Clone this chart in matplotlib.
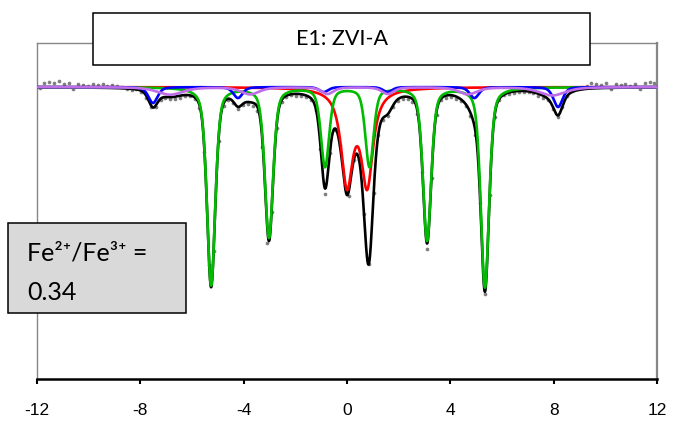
import numpy as np
import matplotlib.pyplot as plt
from matplotlib.patches import Rectangle

plt.rcParams['font.family'] = ['Liberation Sans', 'DejaVu Sans']
plt.rcParams['axes.unicode_minus'] = False

# fitted components (velocity mm/s, depth %, FWHM mm/s)
green_pos = [-5.26, -3.02, -0.85, 0.87, 3.10, 5.34]
green_depth = [9.9, 7.5, 3.95, 3.95, 7.65, 10.0]
green_fwhm = [0.38, 0.38, 0.38, 0.38, 0.38, 0.38]

blue_pos = [-7.51, -4.22, -0.90, 1.57, 4.93, 8.17]
blue_depth = [0.8, 0.55, 0.25, 0.25, 0.55, 1.0]
blue_fwhm = [0.42, 0.42, 0.42, 0.42, 0.42, 0.42]

violet_pos = [-6.85, -3.75, -0.75, 1.58, 4.68, 7.95]
violet_depth = [0.38, 0.36, 0.34, 0.34, 0.36, 0.42]
violet_fwhm = [1.20, 0.85, 0.55, 0.55, 0.85, 1.20]

red_pos = [0.0, 0.78]
red_depth = [4.7, 4.7]
red_fwhm = [0.54, 0.54]

# measured spectrum: deviation of each channel from the fit (%)
residual = [
    -0.05, 0.20, 0.25, 0.20, 0.30, 0.15, 0.20, -0.10,
    0.20, 0.15, 0.10, 0.20, 0.15, 0.20, 0.10, 0.15,
    0.10, 0.05, 0.0, -0.05, 0.0, -0.05, -0.1, -0.1,
    -0.1, -0.05, -0.05, -0.1, -0.1, -0.1, -0.05, -0.05,
    -0.1, -0.15, -0.3, -0.2, -0.3, -0.2, -0.1, -0.05,
    -0.05, -0.1, -0.05, -0.1, -0.15, -0.2, -0.4, -0.9,
    -0.4, -0.2, -0.1, -0.05, -0.05, -0.1, -0.1, -0.1,
    -0.1, -0.1, -0.2, -0.25, -0.1, -0.1, -0.05, -0.1,
    -0.4, -0.1, 0.0, -0.05, 0.0, 0.0, -0.1, -0.1,
    -0.1, -0.1, -0.1, -0.1, -0.1, -0.15, -0.2, -0.35,
    -0.3, -0.3, -0.2, -0.1, -0.1, -0.1, -0.15, -0.1,
    -0.1, -0.15, -0.2, -0.2, -0.1, -0.2, -0.1, -0.05,
    -0.05, -0.1, -0.1, -0.05, -0.05, -0.05, -0.05, -0.1,
    -0.1, -0.05, -0.1, -0.1, -0.05, 0.0, 0.05, 0.1,
    0.05, 0.15, 0.25, 0.20, 0.15, 0.25, -0.05, 0.20,
    0.15, 0.20, 0.10, 0.20, -0.05, 0.20, 0.25, 0.20,
]

title = "E1: ZVI-A"
ratio = "0.34"


def voigt(v, pos, depth, fwhm, eta=0.45):
    # pseudo-Voigt line shape
    out = np.zeros_like(v)
    for p, d, w in zip(pos, depth, fwhm):
        lor = 1 / (1 + ((v - p) / (w / 2)) ** 2)
        gau = np.exp(-4 * np.log(2) * ((v - p) / w) ** 2)
        out += d * (eta * lor + (1 - eta) * gau)
    return out


def green(v):
    return voigt(v, green_pos, green_depth, green_fwhm)


def blue(v):
    return voigt(v, blue_pos, blue_depth, blue_fwhm)


def violet(v):
    return voigt(v, violet_pos, violet_depth, violet_fwhm, 0.6)


def red(v):
    return voigt(v, red_pos, red_depth, red_fwhm, 0.9)


def total(v):
    return 100 - (green(v) + blue(v) + violet(v) + red(v))


v = np.linspace(-12, 12, 2401)
chan = np.linspace(-11.9, 11.9, len(residual))
data = total(chan) + np.array(residual)

fig = plt.figure(figsize=(6.73, 4.21), dpi=100)
ax = fig.add_axes([37 / 673, 1 - 379 / 421, 620 / 673, 336 / 421])

ax.scatter(chan, data, s=7, color='#7f7f7f', zorder=1, linewidths=0)
lw = 1.9
ax.plot(v, total(v), color='black', lw=lw, zorder=2)
ax.plot(v, 100 - red(v), color='#ff0000', lw=lw, zorder=3)
ax.plot(v, 100 - green(v), color='#00bb00', lw=lw, zorder=4)
ax.plot(v, 100 - blue(v), color='#0000ff', lw=lw, zorder=5)
ax.plot(v, 100 - violet(v), color='#c06ee8', lw=lw, zorder=6)

ax.set_xlim(-12, 12)
ax.set_ylim(85.4, 102.2)
ax.set_xticks(range(-12, 13, 4))
ax.set_yticks([])
ax.tick_params(axis='x', direction='out', length=3.6, width=1.5, pad=14, labelsize=12.5)
for s in ['left', 'top']:
    ax.spines[s].set_color('#868686')
    ax.spines[s].set_linewidth(1.0)
ax.spines['right'].set_color('#868686')
ax.spines['right'].set_linewidth(1.6)
ax.spines['bottom'].set_color('black')
ax.spines['bottom'].set_linewidth(1.8)

fig.add_artist(Rectangle((93 / 673, 1 - 65 / 421), 497 / 673, 52 / 421,
                         transform=fig.transFigure, facecolor='white',
                         edgecolor='black', lw=1.1, zorder=5))
fig.text(342 / 673, 1 - 39 / 421, title, ha='center', va='center',
         fontsize=15.5, family='Lato', zorder=6)

fig.add_artist(Rectangle((8 / 673, 1 - 313 / 421), 178 / 673, 90 / 421,
                         transform=fig.transFigure, facecolor='#d9d9d9',
                         edgecolor='black', lw=1.1, zorder=5))
fig.text(27 / 673, 1 - 253 / 421, 'Fe\u00b2\u207a/Fe\u00b3\u207a =',
         ha='left', va='center', fontsize=18, family=['Lato', 'DejaVu Sans'], zorder=6)
fig.text(27 / 673, 1 - 292 / 421, ratio, ha='left', va='center',
         fontsize=18, family='Lato', zorder=6)

fig.savefig('out.png', dpi=100)
